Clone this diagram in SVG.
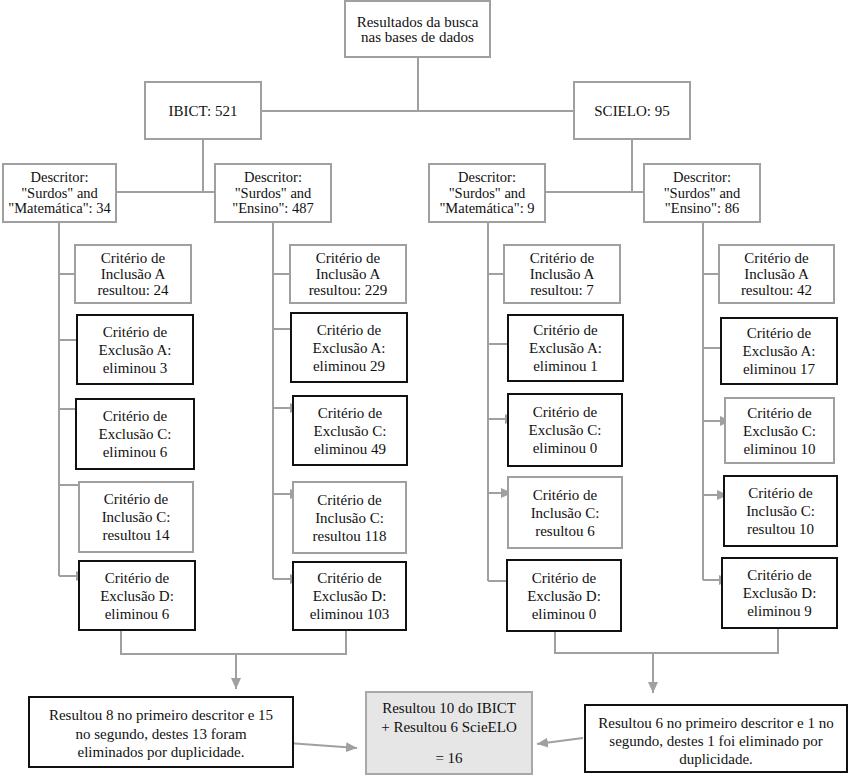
<svg xmlns="http://www.w3.org/2000/svg" width="850" height="776" viewBox="0 0 850 776">
<defs>
<marker id="ah" markerWidth="11" markerHeight="10" refX="11" refY="5" orient="auto" markerUnits="userSpaceOnUse">
<path d="M0,0 L11,5 L0,10 z" fill="#a0a0a0"/>
</marker>
<style>
.g{fill:#fff;stroke:#a0a0a0;stroke-width:2}
.b{fill:#fff;stroke:#111;stroke-width:2}
.c{fill:#e6e6e6;stroke:#a8a8a8;stroke-width:2}
.t{font-family:"Liberation Serif","Times New Roman",serif;font-size:15px;fill:#111;text-anchor:middle}
.td{font-family:"Liberation Serif","Times New Roman",serif;font-size:14.5px;fill:#111;text-anchor:middle}
.t2{font-family:"Liberation Serif","Times New Roman",serif;font-size:15px;fill:#111;text-anchor:middle}
.l{fill:none;stroke:#a0a0a0;stroke-width:2}
.a{fill:none;stroke:#a0a0a0;stroke-width:2;marker-end:url(#ah)}
</style>
</defs>
<rect width="850" height="776" fill="#fff"/>

<g id="connectors">
<path class="l" d="M418,57 V111 M261,111 H574"/>
<path class="l" d="M203,139 V192 M116,192 H215"/>
<path class="l" d="M632,139 V192 M545,192 H644"/>
<path class="l" d="M59,222 V576 M59,274 H75 M59,409 H76 M59,485 H79"/>
<path class="a" d="M59,340 H87"/>
<path class="a" d="M59,576 H87"/>
<path class="l" d="M273,222 V579 M273,274 H290 M273,329 H291"/>
<path class="a" d="M273,408 H301"/>
<path class="a" d="M273,494 H301"/>
<path class="a" d="M273,579 H301"/>
<path class="l" d="M488,222 V581 M488,274 H504 M488,344 H508 M488,581 H507"/>
<path class="a" d="M488,419 H516"/>
<path class="a" d="M488,493 H512"/>
<path class="l" d="M703,222 V580 M703,274 H719 M703,348 H721"/>
<path class="a" d="M703,421 H731"/>
<path class="a" d="M703,495 H728"/>
<path class="a" d="M703,580 H730"/>
<path class="l" d="M121,630 V654 H346 V630"/>
<path class="a" d="M236,654 V689"/>
<path class="l" d="M555,631 V653 H778 V628"/>
<path class="a" d="M653,653 V693"/>
<path class="a" d="M288,743 L357,748"/>
<path class="a" d="M583,738 L537,744"/>
</g>

<g id="top"><rect class="g" x="345" y="1" width="145" height="56"/>
<text class="t" x="417.5" y="27">Resultados da busca</text><text class="t" x="417.5" y="42">nas bases de dados</text></g>

<g id="ibict"><rect class="g" x="145" y="82" width="116" height="57"/><text class="t" x="203" y="116">IBICT: 521</text></g>
<g id="scielo"><rect class="g" x="574" y="82" width="116" height="57"/><text class="t" x="632" y="116">SCIELO: 95</text></g>

<g id="d1"><rect class="g" x="3" y="164" width="113" height="58"/>
<text class="td"><tspan x="59.5" y="182">Descritor:</tspan><tspan x="59.5" y="197.5">"Surdos" and</tspan><tspan x="59.5" y="213">"Matemática": 34</tspan></text></g>
<g id="d2"><rect class="g" x="215" y="164" width="116" height="58"/>
<text class="td"><tspan x="273" y="182">Descritor:</tspan><tspan x="273" y="197.5">"Surdos" and</tspan><tspan x="273" y="213">"Ensino": 487</tspan></text></g>
<g id="d3"><rect class="g" x="429" y="164" width="116" height="58"/>
<text class="td"><tspan x="487" y="182">Descritor:</tspan><tspan x="487" y="197.5">"Surdos" and</tspan><tspan x="487" y="213">"Matemática": 9</tspan></text></g>
<g id="d4"><rect class="g" x="644" y="164" width="116" height="58"/>
<text class="td"><tspan x="702" y="182">Descritor:</tspan><tspan x="702" y="197.5">"Surdos" and</tspan><tspan x="702" y="213">"Ensino": 86</tspan></text></g>

<g id="c1a"><rect class="g" x="75" y="245" width="116" height="58"/>
<text class="t"><tspan x="133" y="263">Critério de</tspan><tspan x="133" y="279">Inclusão A</tspan><tspan x="133" y="295">resultou: 24</tspan></text></g>
<g id="c1b"><rect class="b" x="77" y="315" width="116" height="69"/>
<text class="t"><tspan x="135" y="337">Critério de</tspan><tspan x="135" y="355">Exclusão A:</tspan><tspan x="135" y="373">eliminou 3</tspan></text></g>
<g id="c1c"><rect class="b" x="76" y="399" width="118" height="70"/>
<text class="t"><tspan x="135" y="421">Critério de</tspan><tspan x="135" y="439">Exclusão C:</tspan><tspan x="135" y="457">eliminou 6</tspan></text></g>
<g id="c1d"><rect class="g" x="79" y="482" width="114" height="70"/>
<text class="t"><tspan x="136" y="504">Critério de</tspan><tspan x="136" y="522">Inclusão C:</tspan><tspan x="136" y="540">resultou 14</tspan></text></g>
<g id="c1e"><rect class="b" x="79" y="561" width="116" height="69"/>
<text class="t"><tspan x="137" y="583">Critério de</tspan><tspan x="137" y="601">Exclusão D:</tspan><tspan x="137" y="619">eliminou 6</tspan></text></g>

<g id="c2a"><rect class="g" x="290" y="245" width="116" height="58"/>
<text class="t"><tspan x="348" y="263">Critério de</tspan><tspan x="348" y="279">Inclusão A</tspan><tspan x="348" y="295">resultou: 229</tspan></text></g>
<g id="c2b"><rect class="b" x="291" y="313" width="116" height="69"/>
<text class="t"><tspan x="349" y="335">Critério de</tspan><tspan x="349" y="353">Exclusão A:</tspan><tspan x="349" y="371">eliminou 29</tspan></text></g>
<g id="c2c"><rect class="b" x="293" y="396" width="114" height="69"/>
<text class="t"><tspan x="350" y="418">Critério de</tspan><tspan x="350" y="436">Exclusão C:</tspan><tspan x="350" y="454">eliminou 49</tspan></text></g>
<g id="c2d"><rect class="g" x="293" y="482" width="113" height="71"/>
<text class="t"><tspan x="349.5" y="505">Critério de</tspan><tspan x="349.5" y="523">Inclusão C:</tspan><tspan x="349.5" y="541">resultou 118</tspan></text></g>
<g id="c2e"><rect class="b" x="293" y="562" width="113" height="68"/>
<text class="t"><tspan x="349.5" y="583">Critério de</tspan><tspan x="349.5" y="601">Exclusão D:</tspan><tspan x="349.5" y="619">eliminou 103</tspan></text></g>

<g id="c3a"><rect class="g" x="504" y="245" width="116" height="58"/>
<text class="t"><tspan x="562" y="263">Critério de</tspan><tspan x="562" y="279">Inclusão A</tspan><tspan x="562" y="295">resultou: 7</tspan></text></g>
<g id="c3b"><rect class="b" x="508" y="315" width="115" height="66"/>
<text class="t"><tspan x="565.5" y="335">Critério de</tspan><tspan x="565.5" y="353">Exclusão A:</tspan><tspan x="565.5" y="371">eliminou 1</tspan></text></g>
<g id="c3c"><rect class="b" x="508" y="394" width="114" height="72"/>
<text class="t"><tspan x="565" y="417">Critério de</tspan><tspan x="565" y="435">Exclusão C:</tspan><tspan x="565" y="453">eliminou 0</tspan></text></g>
<g id="c3d"><rect class="g" x="508" y="477" width="114" height="71"/>
<text class="t"><tspan x="565" y="499.5">Critério de</tspan><tspan x="565" y="517.5">Inclusão C:</tspan><tspan x="565" y="535.5">resultou 6</tspan></text></g>
<g id="c3e"><rect class="b" x="507" y="560" width="114" height="71"/>
<text class="t"><tspan x="564" y="582.5">Critério de</tspan><tspan x="564" y="600.5">Exclusão D:</tspan><tspan x="564" y="618.5">eliminou 0</tspan></text></g>

<g id="c4a"><rect class="g" x="719" y="245" width="115" height="58"/>
<text class="t"><tspan x="776.5" y="263">Critério de</tspan><tspan x="776.5" y="279">Inclusão A</tspan><tspan x="776.5" y="295">resultou: 42</tspan></text></g>
<g id="c4b"><rect class="b" x="721" y="318" width="116" height="66"/>
<text class="t"><tspan x="779" y="338">Critério de</tspan><tspan x="779" y="356">Exclusão A:</tspan><tspan x="779" y="374">eliminou 17</tspan></text></g>
<g id="c4c"><rect class="g" x="725" y="398" width="109" height="65"/>
<text class="t"><tspan x="779.5" y="417.5">Critério de</tspan><tspan x="779.5" y="435.5">Exclusão C:</tspan><tspan x="779.5" y="453.5">eliminou 10</tspan></text></g>
<g id="c4d"><rect class="b" x="724" y="476" width="113" height="70"/>
<text class="t"><tspan x="780.5" y="498">Critério de</tspan><tspan x="780.5" y="516">Inclusão C:</tspan><tspan x="780.5" y="534">resultou 10</tspan></text></g>
<g id="c4e"><rect class="b" x="722" y="558" width="115" height="70"/>
<text class="t"><tspan x="779.5" y="580">Critério de</tspan><tspan x="779.5" y="598">Exclusão D:</tspan><tspan x="779.5" y="616">eliminou 9</tspan></text></g>

<g id="resL"><rect class="b" x="29" y="697" width="264" height="70"/>
<text class="t2"><tspan x="161" y="720">Resultou 8 no primeiro descritor e 15</tspan><tspan x="161" y="739">no segundo, destes 13 foram</tspan><tspan x="161" y="757">eliminados por duplicidade.</tspan></text></g>
<g id="resC"><rect class="c" x="366" y="692" width="166" height="82"/>
<text class="t2"><tspan x="449" y="713">Resultou 10 do IBICT</tspan><tspan x="449" y="732">+ Resultou 6 ScieELO</tspan><tspan x="449" y="763">= 16</tspan></text></g>
<g id="resR"><rect class="b" x="585" y="705" width="262" height="67"/>
<text class="t2"><tspan x="716" y="728">Resultou 6 no primeiro descritor e 1 no</tspan><tspan x="716" y="746">segundo, destes 1 foi eliminado por</tspan><tspan x="716" y="764">duplicidade.</tspan></text></g>
</svg>
